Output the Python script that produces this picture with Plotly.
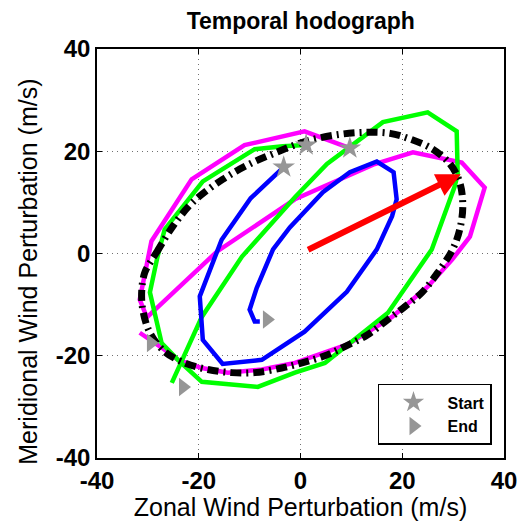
import plotly.graph_objects as go

# ---- data (m/s) ----
blue_u = [-3.3, -9.8, -15.5, -19.8, -19.2, -15.3, -7.6, 0.8, 9.1, 15.0, 18.0, 18.9, 18.3, 15.0, 9.7, 4.4, -2.1, -5.4, -8.6, -10.0, -9.0, -8.0]
blue_v = [16.9, 10.8, 2.7, -8.4, -16.9, -21.6, -20.8, -15.3, -7.5, 0.8, 7.3, 10.6, 15.9, 18.0, 15.9, 12.0, 5.1, 0.8, -6.7, -11.0, -13.3, -13.3]

magenta_u = [9.7, 0.8, -11.0, -21.4, -29.3, -31.6, -30.2, -16.4, -1.1, 14.6, 22.1, 31.7, 36.2, 33.3, 29.8, 25.0, 18.0, 9.3, -1.1, -7.6, -14.3, -19.4, -24.1, -27.3, -31.6]
magenta_v = [20.6, 23.9, 21.2, 14.5, 2.4, -9.0, -12.5, 0.4, 10.6, 17.5, 19.8, 17.8, 12.9, 3.3, -1.2, -6.5, -12.4, -17.8, -21.4, -22.7, -23.3, -22.4, -20.8, -18.4, -15.5]

green_u = [1.0, -3.5, -9.0, -19.2, -26.7, -28.1, -29.6, -27.3, -24.1, -19.4, -8.4, -1.1, 4.8, 17.2, 25.8, 30.3, 30.9, 30.7, 25.0, 16.2, 5.2, -1.1, -11.5, -16.3, -19.4, -25.3]
green_v = [21.2, 21.0, 20.4, 14.1, 4.7, -0.6, -7.6, -17.5, -20.8, -25.1, -26.1, -23.3, -21.4, -11.6, 0.8, 13.1, 15.5, 23.9, 27.6, 25.7, 17.5, 11.0, -0.6, -7.6, -12.4, -25.3]

ellipse_u = [-29.2, -28.3, -25.1, -21.2, -15.3, -10.0, -4.7, 1.2, 7.7, 13.0, 17.6, 21.5, 26.0, 29.4, 31.3, 31.9, 31.3, 29.9, 27.0, 23.9, 20.5, 17.2, 13.2, 8.7, 4.8, 0.3, -3.7, -9.0, -13.5, -18.2, -22.8, -26.7, -29.6, -31.0, -31.2, -30.6, -29.2]
ellipse_v = [-1.2, 0.2, 5.3, 10.0, 14.5, 17.5, 19.8, 22.0, 23.3, 23.7, 23.5, 22.4, 20.4, 17.5, 13.9, 9.2, 4.7, 0.8, -3.7, -7.6, -10.4, -12.9, -15.9, -18.2, -20.0, -21.4, -22.4, -23.3, -23.3, -22.7, -21.4, -19.2, -15.5, -11.0, -7.1, -3.7, -1.2]

start_u = [-3.3, 1.1, 9.7]
start_v = [16.9, 21.2, 20.6]
end_u = [-6.6, -29.4, -23.1]
end_v = [-12.9, -17.5, -26.1]

arrow_u = [1.2, 31.5]   # tail, tip
arrow_v = [0.6, 15.5]

tick_vals = [-40, -20, 0, 20, 40]
tick_text = ["-40", "-20", "0", "20", "40"]

FONT = "Arial, Liberation Sans, Helvetica, sans-serif"
GRAY = "#969696"
LW = 4.5

fig = go.Figure()
fig.add_trace(go.Scatter(x=magenta_u, y=magenta_v, mode="lines",
                         line=dict(color="#FF00FF", width=LW), showlegend=False, hoverinfo="skip"))
fig.add_trace(go.Scatter(x=green_u, y=green_v, mode="lines",
                         line=dict(color="#00FF00", width=LW), showlegend=False, hoverinfo="skip"))
fig.add_trace(go.Scatter(x=blue_u, y=blue_v, mode="lines",
                         line=dict(color="#0000FF", width=LW), showlegend=False, hoverinfo="skip"))
fig.add_trace(go.Scatter(x=ellipse_u, y=ellipse_v, mode="lines",
                         line=dict(color="black", width=7, dash="11px,5px,2px,5px", shape="spline"),
                         showlegend=False, hoverinfo="skip"))
fig.add_trace(go.Scatter(x=start_u, y=start_v, mode="markers", name="Start",
                         marker=dict(symbol="star", size=17, color=GRAY, line=dict(width=0))))
fig.add_trace(go.Scatter(x=end_u, y=end_v, mode="markers", name="End",
                         marker=dict(symbol="triangle-right", size=16, color=GRAY, line=dict(width=0))))

fig.add_annotation(x=arrow_u[1], y=arrow_v[1], ax=arrow_u[0], ay=arrow_v[0],
                   xref="x", yref="y", axref="x", ayref="y", text="",
                   showarrow=True, arrowhead=2, arrowsize=0.8, arrowwidth=6,
                   arrowcolor="#FF0000", standoff=0)

fig.add_annotation(text="Meridional Wind Perturbation (m/s)", textangle=-90,
                   xref="paper", yref="paper", x=-0.17, y=0.455,
                   xanchor="center", yanchor="middle", showarrow=False,
                   font=dict(family=FONT, size=25, color="black"))

axis_common = dict(range=[-40, 40], tickvals=tick_vals, ticktext=tick_text,
                   showline=True, linecolor="black", linewidth=1.5, mirror="ticks",
                   ticks="inside", ticklen=5, tickcolor="black", tickwidth=1,
                   showgrid=True, gridcolor="#707070", gridwidth=1, griddash="1px,4px",
                   zeroline=False, automargin=False,
                   tickfont=dict(family=FONT, size=24, color="black", weight="bold"))

fig.update_layout(
    width=524, height=521,
    margin=dict(l=97, r=20, t=49, b=63),
    paper_bgcolor="white", plot_bgcolor="white",
    title=dict(text="<b>Temporal hodograph</b>", x=0.574, xanchor="center", y=0.96, yanchor="middle",
               font=dict(family=FONT, size=23, color="black")),
    xaxis=dict(**axis_common,
               title=dict(text="Zonal Wind Perturbation (m/s)", standoff=4,
                          font=dict(family=FONT, size=25, color="black"))),
    yaxis=dict(**axis_common),
    legend=dict(x=0.9705, y=0.032, xanchor="right", yanchor="bottom",
                bgcolor="white", bordercolor="black", borderwidth=1.5,
                font=dict(family=FONT, size=16, color="black", weight="bold"),
                itemwidth=58),
)

fig.write_html("out.html",
               config={"displayModeBar": False},
               post_script="document.body.style.margin='0';document.body.style.padding='0';"
                           "document.body.style.overflow='hidden';")
